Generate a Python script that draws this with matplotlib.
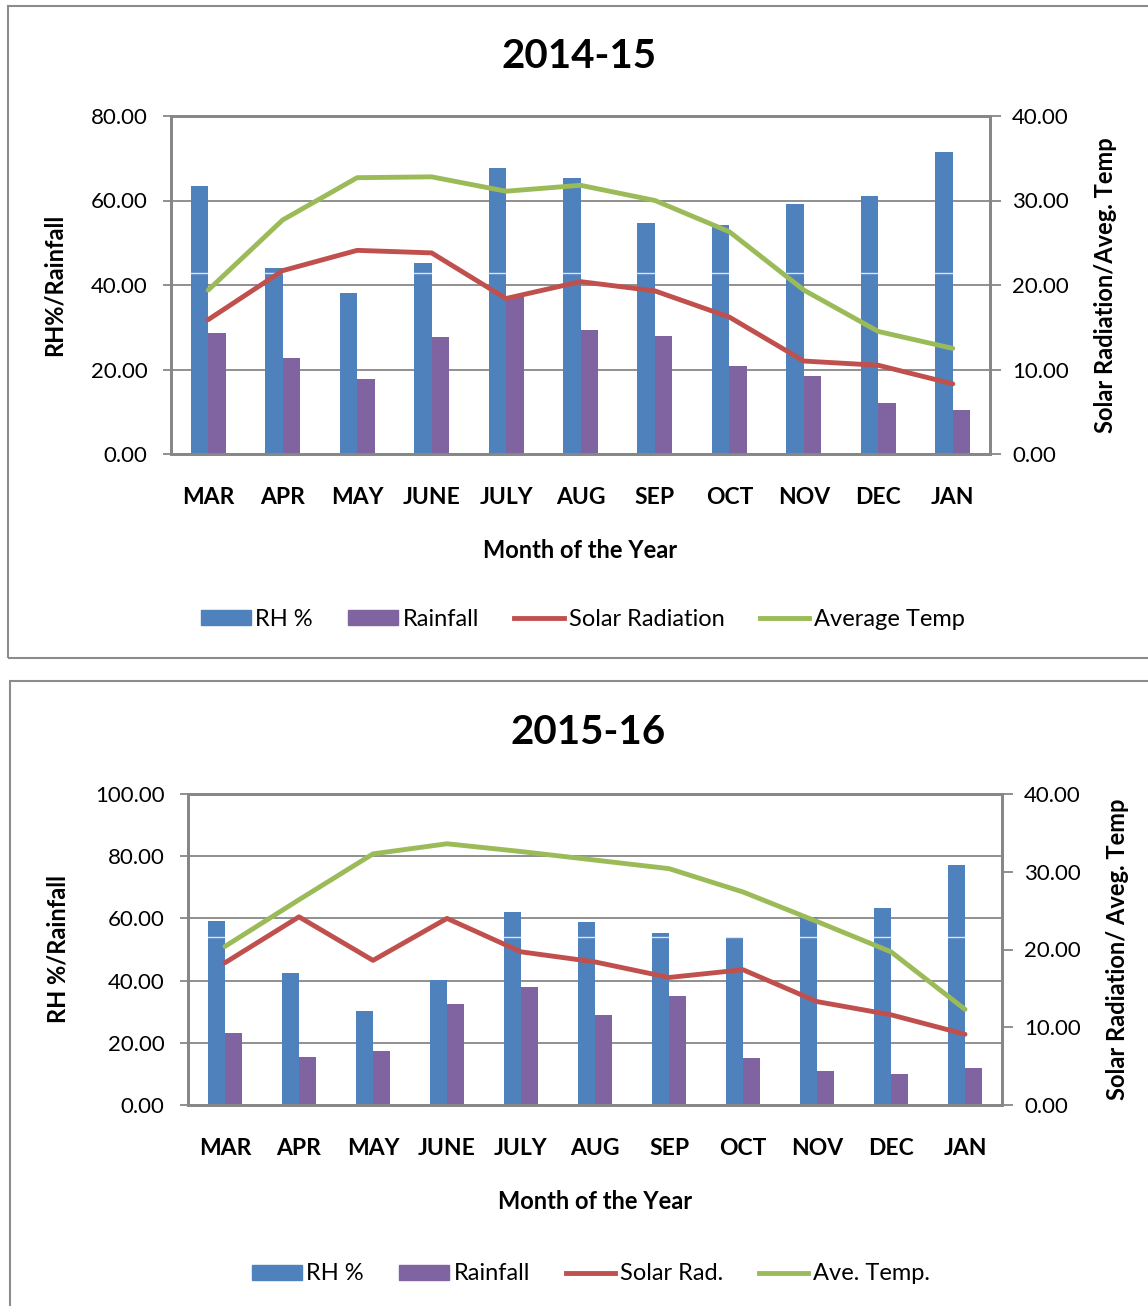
import matplotlib.pyplot as plt
from matplotlib.patches import Rectangle, Patch
from matplotlib.lines import Line2D
import numpy as np

plt.rcParams['font.family'] = ['Lato', 'DejaVu Sans']

months = ["MAR", "APR", "MAY", "JUNE", "JULY", "AUG", "SEP", "OCT", "NOV", "DEC", "JAN"]

# 2014-15
rh_1415 = [63.4, 44.1, 38.0, 45.1, 67.8, 65.3, 54.7, 54.2, 59.1, 61.1, 71.5]
rain_1415 = [28.7, 22.8, 17.8, 27.8, 37.5, 29.3, 28.0, 20.9, 18.4, 12.1, 10.3]
solar_1415 = [15.9, 21.7, 24.1, 23.8, 18.4, 20.4, 19.3, 16.2, 11.0, 10.5, 8.3]
temp_1415 = [19.4, 27.7, 32.7, 32.8, 31.1, 31.8, 30.0, 26.3, 19.4, 14.5, 12.5]

# 2015-16
rh_1516 = [59.3, 42.3, 30.3, 40.2, 62.0, 58.9, 55.2, 54.1, 60.3, 63.2, 77.2]
rain_1516 = [23.3, 15.3, 17.5, 32.5, 37.8, 28.9, 35.0, 15.0, 11.0, 10.0, 12.0]
solar_1516 = [18.3, 24.2, 18.6, 24.0, 19.7, 18.4, 16.4, 17.4, 13.3, 11.6, 9.1]
temp_1516 = [20.4, 26.4, 32.3, 33.6, 32.6, 31.5, 30.4, 27.4, 23.6, 19.7, 12.3]

BLUE = "#4F81BD"
PURPLE = "#8064A2"
RED = "#C0504D"
GREEN = "#9BBB59"
GRID = "#878787"

fig = plt.figure(figsize=(11.48, 13.06), dpi=100)

# panel frames
fig.patches.append(Rectangle((8 / 1148, 1 - 658 / 1306), 1.2, 652 / 1306,
                             transform=fig.transFigure, fill=False,
                             edgecolor="#8c8c8c", lw=1.5))
fig.patches.append(Rectangle((10 / 1148, -0.1), 1.2, 0.1 + 1 - 681 / 1306,
                             transform=fig.transFigure, fill=False,
                             edgecolor="#8c8c8c", lw=1.5))


def panel(rect, rh, rain, solar, temp, lmax, rmax, title, title_xy,
          ylab, rylab, labels, leg_xy, white_y):
    ax = fig.add_axes(rect)
    x = np.arange(len(months))
    w = 0.235
    ax.bar(x - w / 2, rh, w, color=BLUE, zorder=2)
    ax.bar(x + w / 2, rain, w, color=PURPLE, zorder=2)
    ax.axhline(white_y, color="white", lw=1.0, alpha=0.8, zorder=2.5)
    ax.set_xlim(-0.5, len(months) - 0.5)
    ax.set_ylim(0, lmax)
    ax.set_yticks(np.arange(0, lmax + 1, 20))
    ax.set_yticklabels([f"{v:.2f}" for v in np.arange(0, lmax + 1, 20)])
    ax.yaxis.grid(True, color=GRID, lw=1.3)
    ax.set_axisbelow(True)
    ax.set_xticks(x)
    ax.set_xticklabels(months, fontweight="bold", fontsize=16.5)
    ax.tick_params(axis="x", length=0, pad=24)
    ax.tick_params(axis="y", labelsize=16, length=6, color=GRID, width=1.3, pad=11)
    ax.set_xlabel("Month of the Year", fontweight="bold", fontsize=17, labelpad=22)
    ax.set_ylabel(ylab, fontweight="bold", fontsize=17, labelpad=18)
    for s in ax.spines.values():
        s.set_color(GRID)
        s.set_linewidth(2)

    ax2 = ax.twinx()
    ax2.plot(x, solar, color=RED, lw=3.5, solid_capstyle="round")
    ax2.plot(x, temp, color=GREEN, lw=3.5, solid_capstyle="round")
    ax2.set_ylim(0, rmax)
    ax2.set_yticks(np.arange(0, rmax + 1, 10))
    ax2.set_yticklabels([f"{v:.2f}" for v in np.arange(0, rmax + 1, 10)])
    ax2.tick_params(axis="y", labelsize=16, length=8, color=GRID, width=1.3, pad=8)
    ax2.set_ylabel(rylab, fontweight="bold", fontsize=17, labelpad=18)
    for s in ax2.spines.values():
        s.set_color(GRID)
        s.set_linewidth(2)

    fig.text(title_xy[0], title_xy[1], title, ha="center", va="center",
             fontsize=29, fontweight="bold")

    handles = [Patch(color=BLUE), Patch(color=PURPLE),
               Line2D([], [], color=RED, lw=3.5),
               Line2D([], [], color=GREEN, lw=3.5)]
    fig.legend(handles, labels, loc="center", bbox_to_anchor=leg_xy,
               ncol=4, frameon=False, fontsize=17, handlelength=2.1,
               handleheight=0.6, handletextpad=0.2, columnspacing=1.5)
    return ax


panel([171 / 1148, 1 - 454 / 1306, 819 / 1148, 338 / 1306],
      rh_1415, rain_1415, solar_1415, temp_1415, 80, 40,
      "2014-15", (579 / 1148, 1 - 56 / 1306),
      "RH%/Rainfall", "Solar Radiation/Aveg. Temp",
      ["RH %", "Rainfall", "Solar Radiation", "Average Temp"],
      (583 / 1148, 1 - 619 / 1306), 42.8)

panel([188 / 1148, 1 - 1105 / 1306, 814 / 1148, 311 / 1306],
      rh_1516, rain_1516, solar_1516, temp_1516, 100, 40,
      "2015-16", (588 / 1148, 1 - 733 / 1306),
      "RH %/Rainfall", "Solar Radiation/ Aveg. Temp",
      ["RH %", "Rainfall", "Solar Rad.", "Ave. Temp."],
      (591 / 1148, 1 - 1274 / 1306), 54.0)

fig.savefig("out.png", dpi=100)
